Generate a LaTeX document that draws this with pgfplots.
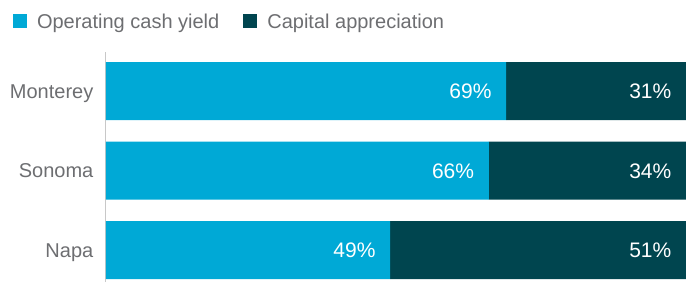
\documentclass[border=0pt]{standalone}
\usepackage{fontspec}
\setmainfont{Liberation Sans}
\usepackage{pgfplots}
\pgfplotsset{compat=1.18}
\definecolor{cyanbar}{HTML}{00A9D6}
\definecolor{tealbar}{HTML}{00454F}
\definecolor{txtgray}{HTML}{6D6E71}
\definecolor{axgray}{HTML}{C8C8C8}
\begin{document}
\begin{tikzpicture}[x=1pt,y=1pt]
\useasboundingbox (0,0) rectangle (686,282);
\begin{axis}[
  at={(106pt,0pt)}, anchor=south west,
  scale only axis, width=580pt, height=230pt,
  xbar stacked, bar width=58pt,
  xmin=0, xmax=100, ymin=-0.4025, ymax=2.491,
  axis x line=none,
  axis y line*=left,
  y axis line style={draw=axgray, line width=1pt, -},
  ytick={0,1,2}, yticklabels={Napa,Sonoma,Monterey},
  major tick length=0pt,
  yticklabel style={font=\fontsize{20}{24}\selectfont, text=txtgray, inner sep=0pt, anchor=base east, xshift=-12.5pt, yshift=-7.2pt},
  point meta=explicit symbolic,
  nodes near coords={\pgfplotspointmeta\%},
  nodes near coords style={anchor=base east, xshift={\pgfplotspointmeta*2.9pt-14.5pt}, yshift=-7.5pt, inner sep=0pt, text=white, font=\fontsize{21}{25}\selectfont},
  legend style={at={(-0.1603,1.167)}, anchor=north west, draw=none, fill=none,
    inner sep=0pt, outer sep=0pt, legend columns=-1,
    font=\fontsize{20}{24}\selectfont, text=txtgray,
    /tikz/every odd column/.append style={column sep=10pt},
    /tikz/every even column/.append style={column sep=24pt},
    nodes={inner sep=0pt, outer sep=0pt}, cells={anchor=base west}},
  legend image code/.code={\fill[#1] (0pt,0pt) rectangle (14pt,14pt);},
  clip=false,
]
\addplot[fill=cyanbar, draw=none] coordinates {(49,0) [49] (66,1) [66] (69,2) [69]};
\addplot[fill=tealbar, draw=none] coordinates {(51,0) [51] (34,1) [34] (31,2) [31]};
\legend{Operating cash yield, Capital appreciation}
\end{axis}
\end{tikzpicture}
\end{document}
